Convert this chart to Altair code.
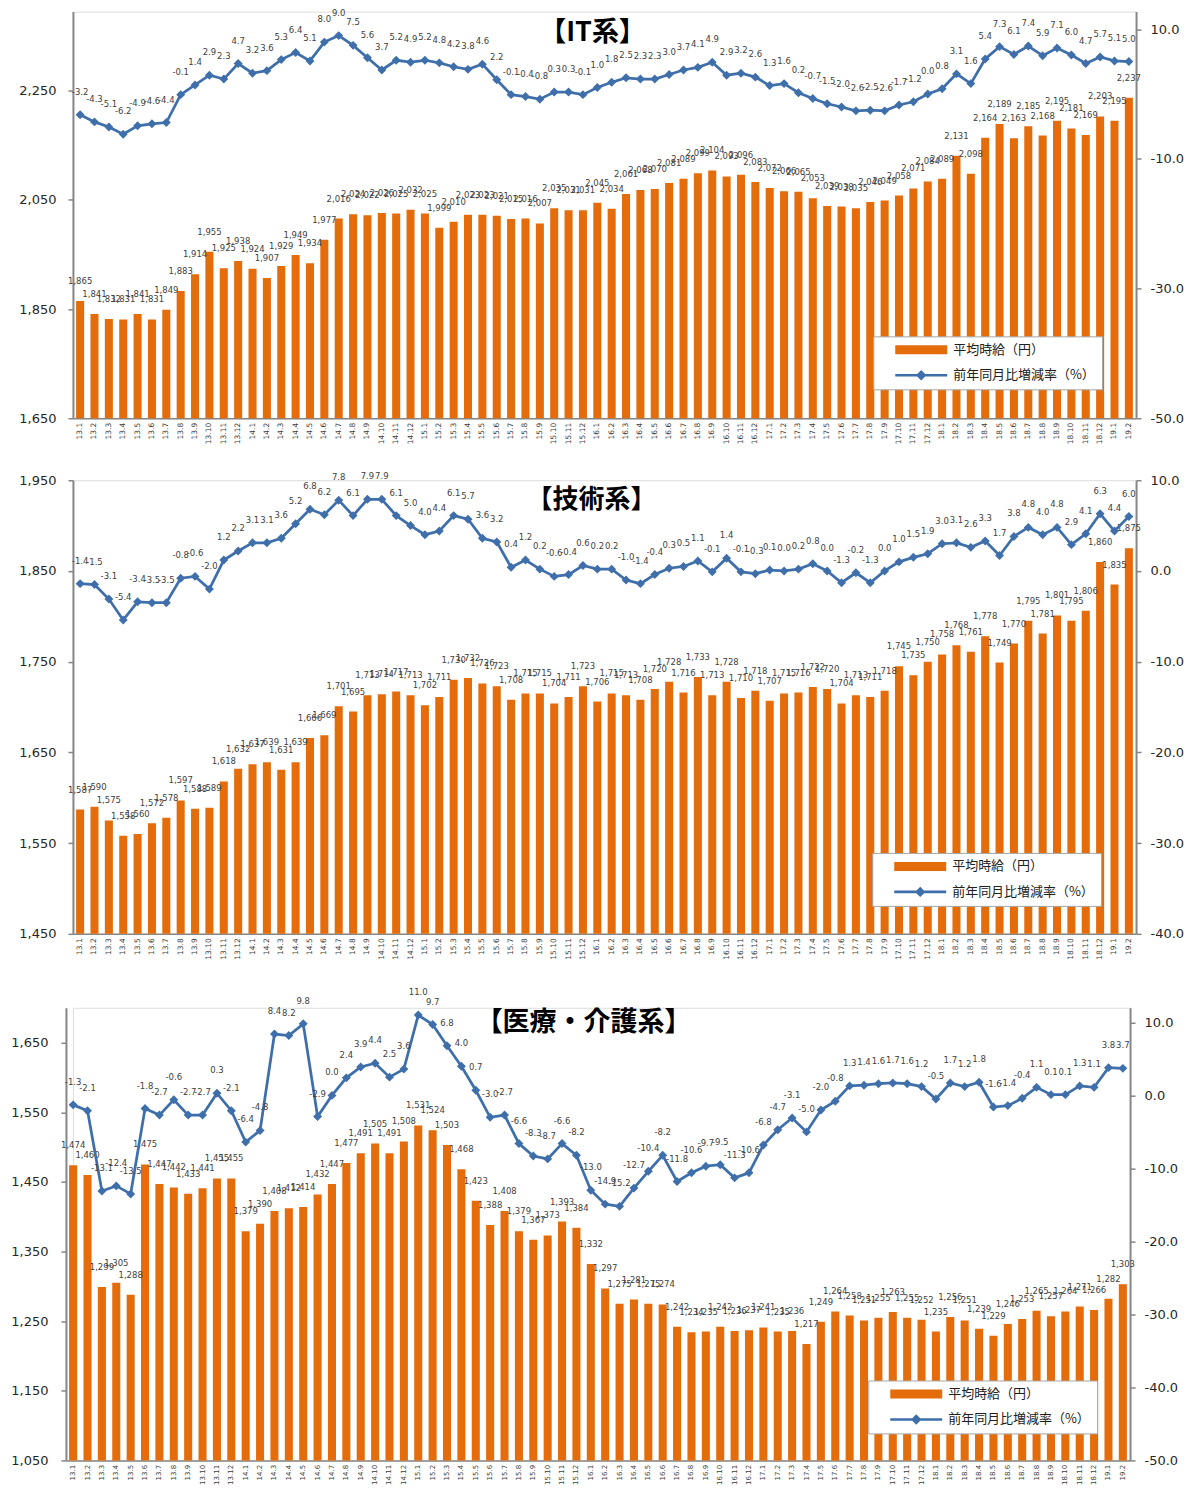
import altair as alt
import pandas as pd

months = ["13.1","13.2","13.3","13.4","13.5","13.6","13.7","13.8","13.9","13.10","13.11","13.12",
          "14.1","14.2","14.3","14.4","14.5","14.6","14.7","14.8","14.9","14.10","14.11","14.12",
          "15.1","15.2","15.3","15.4","15.5","15.6","15.7","15.8","15.9","15.10","15.11","15.12",
          "16.1","16.2","16.3","16.4","16.5","16.6","16.7","16.8","16.9","16.10","16.11","16.12",
          "17.1","17.2","17.3","17.4","17.5","17.6","17.7","17.8","17.9","17.10","17.11","17.12",
          "18.1","18.2","18.3","18.4","18.5","18.6","18.7","18.8","18.9","18.10","18.11","18.12",
          "19.1","19.2"]

it_wage = [1865,1841,1832,1831,1841,1831,1849,1883,1914,1955,1925,1938,
           1924,1907,1929,1949,1934,1977,2016,2024,2022,2026,2025,2032,
           2025,1999,2010,2023,2023,2021,2015,2016,2007,2035,2031,2031,
           2045,2034,2061,2068,2070,2081,2089,2099,2104,2093,2096,2083,
           2072,2066,2065,2053,2039,2038,2035,2046,2049,2058,2071,2084,
           2089,2131,2098,2164,2189,2163,2185,2168,2195,2181,2169,2203,
           2195,2237]
it_rate = [-3.2,-4.3,-5.1,-6.2,-4.9,-4.6,-4.4,-0.1,1.4,2.9,2.3,4.7,
           3.2,3.6,5.3,6.4,5.1,8.0,9.0,7.5,5.6,3.7,5.2,4.9,
           5.2,4.8,4.2,3.8,4.6,2.2,-0.1,-0.4,-0.8,0.3,0.3,-0.1,
           1.0,1.8,2.5,2.3,2.3,3.0,3.7,4.1,4.9,2.9,3.2,2.6,
           1.3,1.6,0.2,-0.7,-1.5,-2.0,-2.6,-2.5,-2.6,-1.7,-1.2,0.0,
           0.8,3.1,1.6,5.4,7.3,6.1,7.4,5.9,7.1,6.0,4.7,5.7,
           5.1,5.0]

tech_wage = [1587,1590,1575,1558,1560,1572,1578,1597,1588,1589,1618,1632,
             1637,1639,1631,1639,1666,1669,1701,1695,1713,1714,1717,1713,
             1702,1711,1730,1732,1726,1723,1708,1715,1715,1704,1711,1723,
             1706,1715,1713,1708,1720,1728,1716,1733,1713,1728,1710,1718,
             1707,1715,1716,1722,1720,1704,1713,1711,1718,1745,1735,1750,
             1758,1768,1761,1778,1749,1770,1795,1781,1801,1795,1806,1860,
             1835,1875]
tech_rate = [-1.4,-1.5,-3.1,-5.4,-3.4,-3.5,-3.5,-0.8,-0.6,-2.0,1.2,2.2,
             3.1,3.1,3.6,5.2,6.8,6.2,7.8,6.1,7.9,7.9,6.1,5.0,
             4.0,4.4,6.1,5.7,3.6,3.2,0.4,1.2,0.2,-0.6,-0.4,0.6,
             0.2,0.2,-1.0,-1.4,-0.4,0.3,0.5,1.1,-0.1,1.4,-0.1,-0.3,
             0.1,0.0,0.2,0.8,0.0,-1.3,-0.2,-1.3,0.0,1.0,1.5,1.9,
             3.0,3.1,2.6,3.3,1.7,3.8,4.8,4.0,4.8,2.9,4.1,6.3,
             4.4,6.0]

med_wage = [1474,1460,1299,1305,1288,1475,1447,1442,1433,1441,1455,1455,
            1379,1390,1408,1412,1414,1432,1447,1477,1491,1505,1491,1508,
            1531,1524,1503,1468,1423,1388,1408,1379,1367,1373,1393,1384,
            1332,1297,1275,1281,1275,1274,1242,1234,1235,1242,1236,1237,
            1241,1235,1236,1217,1249,1264,1258,1251,1255,1263,1255,1252,
            1235,1256,1251,1239,1229,1246,1253,1265,1257,1264,1271,1266,
            1282,1303]
med_rate = [-1.3,-2.1,-13.1,-12.4,-13.5,-1.8,-2.7,-0.6,-2.7,-2.7,0.3,-2.1,
            -6.4,-4.8,8.4,8.2,9.8,-2.9,0.0,2.4,3.9,4.4,2.5,3.6,
            11.0,9.7,6.8,4.0,0.7,-3.0,-2.7,-6.6,-8.3,-8.7,-6.6,-8.2,
            -13.0,-14.9,-15.2,-12.7,-10.4,-8.2,-11.8,-10.6,-9.7,-9.5,-11.3,-10.6,
            -6.8,-4.7,-3.1,-5.0,-2.0,-0.8,1.3,1.4,1.6,1.7,1.6,1.2,
            -0.5,1.7,1.2,1.8,-1.6,-1.4,-0.4,1.1,0.1,0.1,1.3,1.1,
            3.8,3.7]

titles = ["【IT系】", "【技術系】", "【医療・介護系】"]
series_names = ["平均時給（円）", "前年同月比増減率（%）"]

BAR = "#E46C0A"
LINE = "#3F6FAA"
AXC = "#868686"
TXT = "#404040"
FONT = "DejaVu Sans"
JP = "Noto Sans CJK JP"
SHAPES = ["M-3.714,-0.643H3.714V0.643H-3.714Z",
          "M-3.714,-0.18H3.714V0.18H-3.714Z M0,-0.75L0.75,0L0,0.75L-0.75,0Z"]


def panel(title, wage, rate, wdom, wticks, rdom, rticks, w, h, lx, ly, tx, ty,
          lpad, xfs, tfs, shift=0):
    df = pd.DataFrame({"month": months, "wage": wage, "rate": rate})
    base = alt.Chart(df)
    xscale = alt.Scale(paddingInner=0.44, paddingOuter=0.22)
    if shift:
        xscale = alt.Scale(paddingInner=0.44, paddingOuter=0.22, range=[-shift, w])
    xenc = alt.X("month:N", sort=months, scale=xscale,
                 axis=alt.Axis(title=None, labelAngle=-90, ticks=False, labelFontSize=xfs,
                               labelFont=FONT, labelColor=TXT, domainColor=AXC, domainWidth=1.5,
                               labelPadding=4, labelOverlap=False))
    yl = alt.Y("wage:Q", scale=alt.Scale(domain=wdom, nice=False, zero=False),
               axis=alt.Axis(title=None, orient="left", values=wticks, format=",d", grid=False,
                             domainColor=AXC, domainWidth=2, tickColor=AXC, tickSize=5,
                             tickWidth=1.5, labelFontSize=13, labelFont=FONT,
                             labelColor="#262626", labelPadding=lpad, offset=shift))
    yr = alt.Y("rate:Q", scale=alt.Scale(domain=rdom, nice=False, zero=False),
               axis=alt.Axis(title=None, orient="right", values=rticks, format=".1f", grid=False,
                             domainColor=AXC, domainWidth=2, tickColor=AXC, tickSize=5,
                             tickWidth=1.5, labelFontSize=13, labelFont=FONT,
                             labelColor="#262626", labelPadding=9))
    bars = base.mark_bar(color=BAR).encode(x=xenc, y=yl, y2=alt.datum(wdom[0]))
    blab = base.mark_text(dy=-20, fontSize=8.5, font=FONT, color=TXT, baseline="middle").encode(
        x=xenc, y=yl, text=alt.Text("wage:Q", format=",d"))
    line = base.mark_line(color=LINE, strokeWidth=2.75).encode(x=xenc, y=yr)
    pts = base.mark_point(shape="diamond", filled=True, size=80, color=LINE, opacity=1).encode(
        x=xenc, y=yr)
    rlab = base.mark_text(dy=-23, fontSize=8.5, font=FONT, color=TXT, baseline="middle").encode(
        x=xenc, y=yr, text=alt.Text("rate:Q", format=".1f"))
    ttl = alt.Chart(pd.DataFrame({"t": [title]})).mark_text(
        font=JP, fontSize=tfs, fontWeight="bold", color="#000000", align="center",
        baseline="middle").encode(x=alt.value(tx), y=alt.value(ty), text="t:N")
    leg = alt.Legend(title=None, orient="none", legendX=lx, legendY=ly, direction="vertical",
                     fillColor="white", strokeColor="#A6A6A6", padding=6.5, rowPadding=11.5,
                     symbolSize=196, symbolOffset=34.5, labelOffset=25, symbolStrokeWidth=0,
                     labelFont=JP, labelFontSize=13, labelColor="#202020")
    lg = base.transform_filter("false").transform_calculate(series="'x'").mark_point(
        filled=True, opacity=1).encode(
        color=alt.Color("series:N", scale=alt.Scale(domain=series_names, range=[BAR, LINE]), legend=leg),
        shape=alt.Shape("series:N", scale=alt.Scale(domain=series_names, range=SHAPES), legend=leg))
    left = alt.layer(bars, blab)
    right = alt.layer(line, pts, rlab)
    return alt.layer(left, right, ttl, lg).resolve_scale(y="independent").properties(width=w, height=h)


p1 = panel(titles[0], it_wage, it_rate, [1650, 2395], [1650, 1850, 2050, 2250],
           [-50, 12.7], [-50, -30, -10, 10], 1064, 407, 801, 325, 520, 21, 12, 7.5, 27)
p2 = panel(titles[1], tech_wage, tech_rate, [1450, 1950], [1450, 1550, 1650, 1750, 1850, 1950],
           [-40, 10], [-40, -30, -20, -10, 0, 10], 1064, 454, 800, 373, 519, 20, 12, 7.5, 26)
p3 = panel(titles[2], med_wage, med_rate, [1050, 1700], [1050, 1150, 1250, 1350, 1450, 1550, 1650],
           [-50, 12], [-50, -40, -30, -20, -10, 0, 10], 1058, 453, 796, 373, 511, 15, 13, 7, 27,
           shift=7)

chart = alt.vconcat(p1, p2, p3, spacing=27).resolve_scale(
    color="independent", shape="independent").resolve_legend(
    color="independent", shape="independent").properties(
    padding={"left": 2, "top": -1, "right": 0, "bottom": 0}, background="white").configure_view(
    stroke=None).configure(locale=alt.Locale(number=alt.NumberLocale(
        decimal=".", thousands=",", grouping=[3], currency=["", ""], minus="-")))

chart.save("out.html", embed_options={"renderer": "svg", "actions": False})
